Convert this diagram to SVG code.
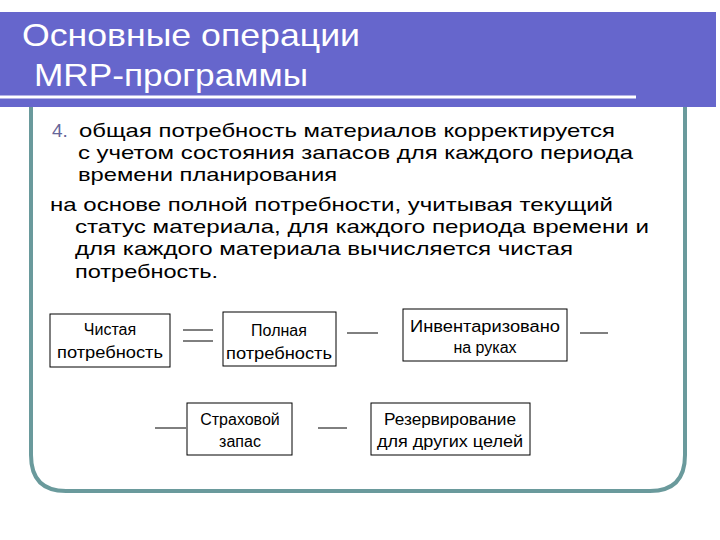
<svg xmlns="http://www.w3.org/2000/svg" width="720" height="540" viewBox="0 0 720 540">
<style>
.t{font-family:"Liberation Sans",Arial,sans-serif;font-size:19px;fill:#000}
.h{font-family:"Liberation Sans",Arial,sans-serif;font-size:32px;fill:#fff}
.n{font-family:"Liberation Sans",Arial,sans-serif;font-size:16px;fill:#000;text-anchor:middle}
.b{fill:#fff;stroke:#000;stroke-width:1}
.c line{stroke:#000;stroke-width:1}
</style>
<rect width="720" height="540" fill="#fff"/>
<path d="M31 100 V455 Q31 491 66 491 H650 Q685 491 685 455 V100" fill="none" stroke="#6a9a9c" stroke-width="4"/>
<rect x="0" y="12" width="716" height="95" fill="#6666cc"/>
<line x1="0" y1="97" x2="636" y2="97" stroke="#fff" stroke-width="3"/>
<text class="h" x="22" y="46" textLength="338" lengthAdjust="spacingAndGlyphs">Основные операции</text>
<text class="h" x="34" y="86" textLength="274" lengthAdjust="spacingAndGlyphs">MRP-программы</text>
<text class="t" x="52" y="137"><tspan fill="#666699">4.</tspan><tspan x="79" textLength="536" lengthAdjust="spacingAndGlyphs">общая потребность материалов корректируется</tspan></text>
<text class="t" x="78" y="159" textLength="555" lengthAdjust="spacingAndGlyphs">с учетом состояния запасов для каждого периода</text>
<text class="t" x="78" y="181" textLength="259" lengthAdjust="spacingAndGlyphs">времени планирования</text>
<text class="t" x="50" y="211" textLength="563" lengthAdjust="spacingAndGlyphs">на основе полной потребности, учитывая текущий</text>
<text class="t" x="75" y="233" textLength="574" lengthAdjust="spacingAndGlyphs">статус материала, для каждого периода времени и</text>
<text class="t" x="75" y="255" textLength="498" lengthAdjust="spacingAndGlyphs">для каждого материала вычисляется чистая</text>
<text class="t" x="75" y="278" textLength="143" lengthAdjust="spacingAndGlyphs">потребность.</text>
<g id="n1"><rect class="b" x="50" y="314" width="120" height="53"/><text class="n" x="110" y="335">Чистая</text><text class="n" x="110" y="358" textLength="106" lengthAdjust="spacingAndGlyphs">потребность</text></g>
<g id="n2"><rect class="b" x="223" y="312" width="113" height="54"/><text class="n" x="279" y="336">Полная</text><text class="n" x="279" y="359" textLength="106" lengthAdjust="spacingAndGlyphs">потребность</text></g>
<g id="n3"><rect class="b" x="403" y="309" width="164" height="52"/><text class="n" x="485" y="332" textLength="150" lengthAdjust="spacingAndGlyphs">Инвентаризовано</text><text class="n" x="485" y="353">на руках</text></g>
<g id="n4"><rect class="b" x="187" y="403" width="105" height="52"/><text class="n" x="240" y="425">Страховой</text><text class="n" x="240" y="447">запас</text></g>
<g id="n5"><rect class="b" x="371" y="403" width="159" height="52"/><text class="n" x="450" y="425" textLength="132" lengthAdjust="spacingAndGlyphs">Резервирование</text><text class="n" x="450" y="447" textLength="146" lengthAdjust="spacingAndGlyphs">для других целей</text></g>
<g class="c" id="connectors">
<line x1="183" y1="330" x2="213" y2="330"/><line x1="183" y1="341" x2="213" y2="341"/>
<line x1="347" y1="333" x2="378" y2="333"/>
<line x1="580" y1="333" x2="608" y2="333"/>
<line x1="155" y1="428" x2="186" y2="428"/>
<line x1="318" y1="428" x2="347" y2="428"/>
</g>
</svg>
